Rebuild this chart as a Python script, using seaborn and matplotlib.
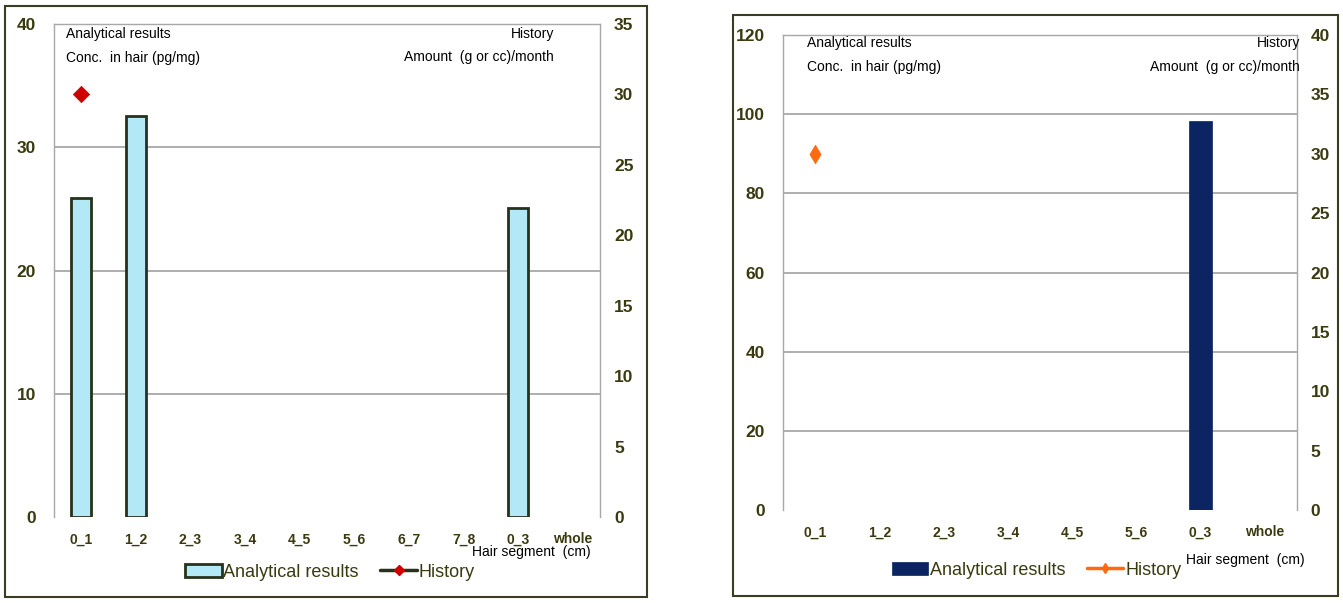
import matplotlib
matplotlib.use('Agg')
import matplotlib.pyplot as plt
from matplotlib.patches import Patch, Rectangle
from matplotlib.lines import Line2D
import numpy as np
import seaborn as sns

sns.set_style('white')
plt.rcParams['font.family'] = ['Liberation Sans', 'DejaVu Sans']

# ---------------- data ----------------
# left chart
segments_a = ['0_1', '1_2', '2_3', '3_4', '4_5', '5_6', '6_7', '7_8', '0_3', 'whole']
conc_a = [25.9, 32.5, np.nan, np.nan, np.nan, np.nan, np.nan, np.nan, 25.1, np.nan]
history_a = [30, np.nan, np.nan, np.nan, np.nan, np.nan, np.nan, np.nan, np.nan, np.nan]

# right chart
segments_b = ['0_1', '1_2', '2_3', '3_4', '4_5', '5_6', '0_3', 'whole']
conc_b = [np.nan, np.nan, np.nan, np.nan, np.nan, np.nan, 98.2, np.nan]
history_b = [30, np.nan, np.nan, np.nan, np.nan, np.nan, np.nan, np.nan]

TICK_COL = '#3a3a10'
GRID_COL = '#a8a8a8'
FRAME_COL = '#3c3c24'


def draw_panel(fig, rect, cats, conc, hist, ylim_l, yticks_l, ylim_r, yticks_r,
               bar_face, bar_edge, bar_lw, hist_col, hist_marker, hist_size,
               hist_line_col, txt_pos, seg_pos, leg_pos):
    ax = fig.add_axes(rect)
    sns.barplot(x=cats, y=conc, order=cats, color=bar_face, edgecolor=bar_edge,
                linewidth=bar_lw, width=0.36, saturation=1, ax=ax)
    ax.set_xlim(-0.5, len(cats) - 0.5)
    ax.set_ylim(*ylim_l)
    ax.set_yticks(yticks_l)
    ax.set_yticklabels([str(v) for v in yticks_l], fontweight='bold')
    ax.set_xticks(range(len(cats)))
    ax.set_xticklabels(cats, fontweight='bold')
    for y in yticks_l[1:-1]:
        ax.axhline(y, color=GRID_COL, lw=1.3, zorder=0)
    for s in ['left', 'right', 'top']:
        ax.spines[s].set_color(GRID_COL)
        ax.spines[s].set_linewidth(1.0)
    ax.spines['bottom'].set_visible(False)
    ax.tick_params(axis='y', length=0, pad=13, labelsize=12.5, labelcolor=TICK_COL)
    ax.tick_params(axis='x', length=0, pad=11, labelsize=10, labelcolor=TICK_COL)
    ax.set_xlabel('')
    ax.set_ylabel('')

    ax2 = ax.twinx()
    sns.scatterplot(x=np.arange(len(cats)), y=hist, marker=hist_marker, s=hist_size,
                    color=hist_col, edgecolor=hist_col, linewidth=0.5, ax=ax2, zorder=5)
    ax2.set_ylim(*ylim_r)
    ax2.set_yticks(yticks_r)
    ax2.set_yticklabels([str(v) for v in yticks_r], fontweight='bold')
    ax2.set_xlim(-0.5, len(cats) - 0.5)
    ax2.tick_params(axis='y', length=0, pad=10, labelsize=12.5, labelcolor=TICK_COL)
    for s in ax2.spines.values():
        s.set_visible(False)
    ax2.set_ylabel('')

    (lx, ly1, ly2), (rx, ry1, ry2) = txt_pos
    ax.text(lx, ly1, 'Analytical results', transform=ax.transAxes, fontsize=10,
            ha='left', va='center', color='black')
    ax.text(lx, ly2, 'Conc.  in hair (pg/mg)', transform=ax.transAxes, fontsize=10,
            ha='left', va='center', color='black')
    ax.text(rx, ry1, 'History', transform=ax.transAxes, fontsize=10,
            ha='right', va='center', color='black')
    ax.text(rx, ry2, 'Amount  (g or cc)/month', transform=ax.transAxes, fontsize=10,
            ha='right', va='center', color='black')
    ax.text(seg_pos[0], seg_pos[1], 'Hair segment  (cm)', transform=ax.transAxes,
            fontsize=10, ha='center', va='center', color='black')

    handles = [Patch(facecolor=bar_face, edgecolor=bar_edge, linewidth=bar_lw),
               Line2D([0], [0], color=hist_line_col, lw=2.5, marker=hist_marker,
                      markersize=5, markerfacecolor=hist_col, markeredgecolor=hist_col)]
    fig.legend(handles, ['Analytical results', 'History'], loc='center',
               bbox_to_anchor=leg_pos, ncol=2, frameon=False, fontsize=13,
               handlelength=2.0, handletextpad=0.1, columnspacing=1.2,
               labelcolor=TICK_COL)
    return ax, ax2


fig = plt.figure(figsize=(13.43, 6.03), dpi=100)
fig.patch.set_facecolor('white')

# outer frames
fig.add_artist(Rectangle((0.0037, 0.010), 0.478, 0.980, transform=fig.transFigure,
                         fill=False, edgecolor=FRAME_COL, lw=1.5))
fig.add_artist(Rectangle((0.5458, 0.0116), 0.4505, 0.9634, transform=fig.transFigure,
                         fill=False, edgecolor=FRAME_COL, lw=1.5))

draw_panel(fig, [0.0402, 0.1426, 0.4066, 0.8176], segments_a, conc_a, history_a,
           (0, 40), [0, 10, 20, 30, 40], (0, 35), [0, 5, 10, 15, 20, 25, 30, 35],
           '#b3e8f7', '#26321a', 2.0, '#cc0000', 'D', 70, '#26321a',
           ((0.022, 0.98, 0.931), (0.916, 0.98, 0.933)), (0.875, -0.071),
           (0.2457, 0.0514))

draw_panel(fig, [0.583, 0.1542, 0.3827, 0.7877], segments_b, conc_b, history_b,
           (0, 120), [0, 20, 40, 60, 80, 100, 120], (0, 40),
           [0, 5, 10, 15, 20, 25, 30, 35, 40],
           '#0b2563', '#0b2563', 0.5, '#ff6a10', 'd', 90, '#ff6a10',
           ((0.047, 0.983, 0.933), (1.006, 0.983, 0.933)), (0.90, -0.105),
           (0.772, 0.0547))

fig.savefig('out.png', dpi=100)
